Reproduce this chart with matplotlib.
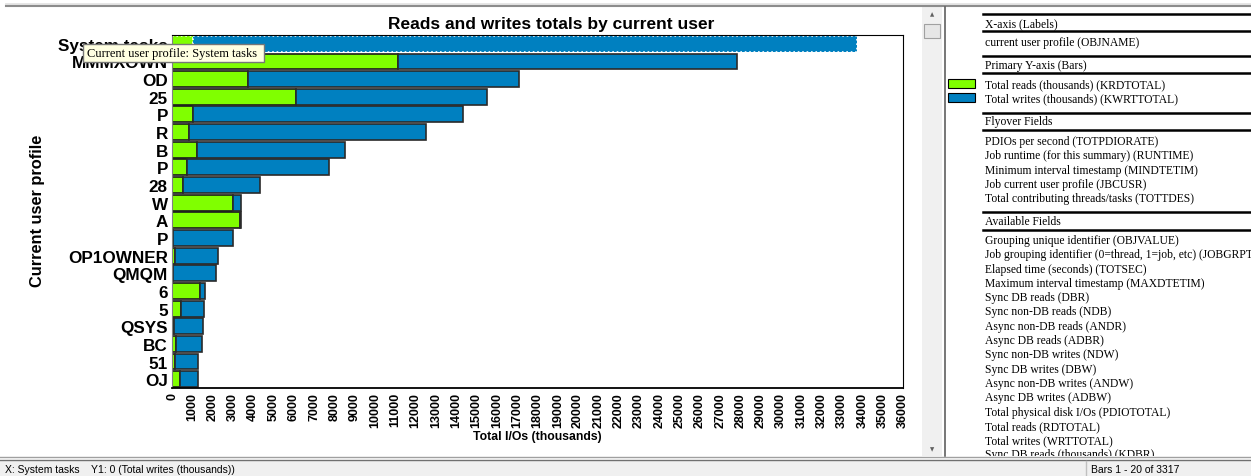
"""
Reads and writes totals by current user, redrawn from a screenshot of the
performance data chart window (chart, field panel and status bar).
"""
import matplotlib.pyplot as plt
from matplotlib.lines import Line2D
from matplotlib.patches import Rectangle

W, H = 1251, 477

USERS = ["System tasks", "MMMXOWN", "OD", "25", "P", "R", "B", "P", "28", "W",
         "A", "P", "OP1OWNER", "QMQM", "6", "5", "QSYS", "BC", "51", "OJ"]
READS = [1050, 11110, 3760, 6120, 1030, 850, 1220, 740, 560, 2990,
         3350, 50, 130, 30, 1390, 460, 100, 180, 170, 410]
WRITES = [32690, 16720, 13330, 9390, 13300, 11660, 7280, 6980, 3760, 420,
          30, 2940, 2150, 2140, 250, 1130, 1440, 1310, 1090, 850]
X_TICKS = list(range(0, 36001, 1000))

LABEL_ROWS = ["X-axis (Labels)", "current user profile (OBJNAME)", "Primary Y-axis (Bars)"]
BAR_FIELDS = ["Total reads (thousands) (KRDTOTAL)", "Total writes (thousands) (KWRTTOTAL)"]
FLYOVER_FIELDS = ["PDIOs per second (TOTPDIORATE)", "Job runtime (for this summary) (RUNTIME)",
                  "Minimum interval timestamp (MINDTETIM)", "Job current user profile (JBCUSR)",
                  "Total contributing threads/tasks (TOTTDES)"]
AVAILABLE_FIELDS = ["Grouping unique identifier (OBJVALUE)",
                    "Job grouping identifier (0=thread, 1=job, etc) (JOBGRPTYPE)",
                    "Elapsed time (seconds) (TOTSEC)", "Maximum interval timestamp (MAXDTETIM)",
                    "Sync DB reads (DBR)", "Sync non-DB reads (NDB)", "Async non-DB reads (ANDR)",
                    "Async DB reads (ADBR)", "Sync non-DB writes (NDW)", "Sync DB writes (DBW)",
                    "Async non-DB writes (ANDW)", "Async DB writes (ADBW)",
                    "Total physical disk I/Os (PDIOTOTAL)", "Total reads (RDTOTAL)",
                    "Total writes (WRTTOTAL)", "Sync DB reads (thousands) (KDBR)"]

GREEN = "#80ff00"
BLUE = "#0080c0"
SANS = "Liberation Sans"
SERIF = "Liberation Serif"


def fx(x):
    return x / W


def fy(y):
    return 1 - y / H


def hline(fig, x0, x1, y, color="black", lw=1.0, z=3):
    fig.add_artist(Line2D([fx(x0), fx(x1)], [fy(y), fy(y)], color=color, lw=lw,
                          transform=fig.transFigure, zorder=z))


def vline(fig, x, y0, y1, color="black", lw=1.0, z=3):
    fig.add_artist(Line2D([fx(x), fx(x)], [fy(y0), fy(y1)], color=color, lw=lw,
                          transform=fig.transFigure, zorder=z))


def box(fig, x0, y0, x1, y1, **kw):
    fig.add_artist(Rectangle((fx(x0), fy(y1)), fx(x1) - fx(x0), fy(y0) - fy(y1),
                             transform=fig.transFigure, **kw))


if __name__ == "__main__":
    fig = plt.figure(figsize=(W / 100, H / 100), dpi=100)

    # chart
    ax = fig.add_axes([fx(172), fy(389), fx(903) - fx(172), fy(36) - fy(389)])
    rows = range(len(USERS))
    ax.barh(rows, READS, height=0.9, color=GREEN, edgecolor="#1a1a1a", lw=1.2)
    ax.barh(rows, WRITES, left=READS, height=0.9, color=BLUE, edgecolor="#2a2a2a", lw=1.2)
    # selected bar has a dotted white outline
    ax.patches[0].set(edgecolor="white", linestyle=":")
    ax.patches[len(USERS)].set(edgecolor="white", linestyle=":")
    ax.set_xlim(0, 36000)
    ax.set_ylim(len(USERS) - 0.5, -0.5)
    ax.set_xticks(X_TICKS)
    ax.set_xticklabels([str(t) for t in X_TICKS], rotation=90, fontsize=9,
                       fontweight="bold", family=SANS)
    ax.set_yticks(list(rows))
    ax.set_yticklabels(USERS, fontsize=12.3, fontweight="bold", family=SANS)
    ax.tick_params(length=0, pad=3)
    ax.spines["left"].set_color("#808080")
    ax.spines["bottom"].set_linewidth(1.3)
    ax.set_xlabel("Total I/Os (thousands)", fontsize=8.8, fontweight="bold",
                  family=SANS, labelpad=2)

    fig.text(fx(551), fy(25), "Reads and writes totals by current user", ha="center",
             va="center", fontsize=12.5, fontweight="bold", family=SANS)
    fig.text(fx(38), fy(211), "Current user profile", rotation=90, ha="center",
             va="center", fontsize=11.8, fontweight="bold", family=SANS)

    # tooltip
    box(fig, 83, 45, 264, 63, facecolor="#ffffe1", edgecolor="#767676", lw=1, zorder=10)
    fig.text(fx(87), fy(54.5), "Current user profile: System tasks", ha="left",
             va="center", fontsize=9, family=SERIF, zorder=11)

    # field panel
    tx = 985
    panel_font = dict(ha="left", va="center", fontsize=8.4, family=SERIF)
    for y in (15, 32, 57, 74, 114, 131, 213, 231):
        hline(fig, 983, W, y, lw=1.8)
    for y, name in zip((24, 43, 66), LABEL_ROWS):
        fig.text(fx(tx), fy(y), name, **panel_font)
    for i, (name, color) in enumerate(zip(BAR_FIELDS, [GREEN, BLUE])):
        y = 85 + i * 14.3
        box(fig, 948, y - 5, 975, y + 4, facecolor=color, edgecolor="black", lw=0.8)
        fig.text(fx(tx), fy(y), name, **panel_font)
    fig.text(fx(tx), fy(122), "Flyover Fields", **panel_font)
    for i, name in enumerate(FLYOVER_FIELDS):
        fig.text(fx(tx), fy(142 + i * 14.3), name, **panel_font)
    fig.text(fx(tx), fy(222), "Available Fields", **panel_font)
    for i, name in enumerate(AVAILABLE_FIELDS):
        fig.text(fx(tx), fy(241 + i * 14.3), name, zorder=1, **panel_font)

    # window chrome (drawn over the overflowing panel line)
    hline(fig, 6, W, 5, color="#e4e4e4", lw=2)
    hline(fig, 6, W, 7, color="#8c8c8c", lw=1.5)
    box(fig, 922, 8, 942, 457, facecolor="#f0f0f0", edgecolor="none")
    box(fig, 924, 25, 940, 39, facecolor="#e6e6e6", edgecolor="#a0a0a0", lw=0.8)
    fig.text(fx(932), fy(15), "▲", ha="center", va="center", fontsize=4, color="#606060")
    fig.text(fx(932), fy(450), "▼", ha="center", va="center", fontsize=4, color="#606060")
    box(fig, 946, 457, W, 462, facecolor="white", edgecolor="none", zorder=5)
    box(fig, 0, 462, W, H, facecolor="#f0f0f0", edgecolor="none", zorder=5)
    vline(fig, 945, 8, 457, color="#606060", lw=1.2, z=6)
    hline(fig, 0, W, 458, color="#a0a0a0", lw=1, z=6)
    hline(fig, 0, W, 461, color="#707070", lw=1, z=6)
    vline(fig, 1086, 462, H, color="#c0c0c0", lw=1, z=6)
    fig.text(fx(5), fy(470), "X: System tasks    Y1: 0 (Total writes (thousands))",
             ha="left", va="center", fontsize=7.5, family=SANS, zorder=7)
    fig.text(fx(1091), fy(470), "Bars 1 - 20 of 3317", ha="left", va="center",
             fontsize=7.5, family=SANS, zorder=7)

    plt.savefig("out.png", dpi=100)
